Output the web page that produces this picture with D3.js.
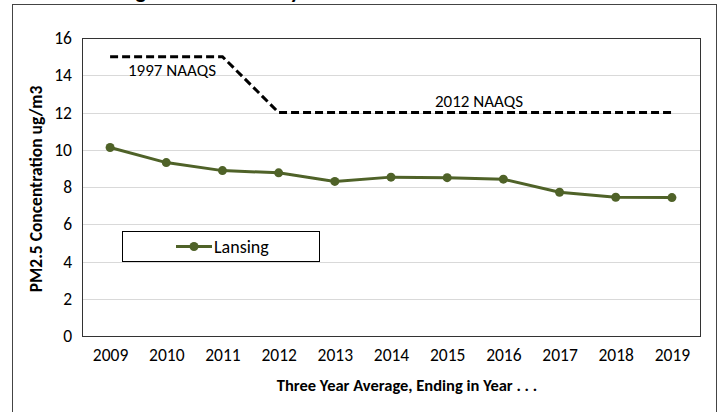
<!DOCTYPE html>
<html>
<head>
<meta charset="utf-8">
<script src="https://cdn.jsdelivr.net/npm/d3@7/dist/d3.min.js"></script>
<style>
  body { margin: 0; background: #fff; }
  svg { display: block; font-family: Carlito, Lato, sans-serif; }
</style>
</head>
<body>
<svg id="chart" width="722" height="412"></svg>
<script>
// data
var years = ['2009', '2010', '2011', '2012', '2013', '2014', '2015', '2016', '2017', '2018', '2019'];
var lansing = [10.12, 9.31, 8.88, 8.76, 8.30, 8.53, 8.50, 8.42, 7.72, 7.45, 7.43];
var naaqs = [15, 15, 15, 12, 12, 12, 12, 12, 12, 12, 12];
var yTicks = [0, 2, 4, 6, 8, 10, 12, 14, 16];

var svg = d3.select('#chart');
var plot = {left: 82, top: 38, right: 700, bottom: 336};
var fs = 17.5;

// title, mostly cut off above the frame
var title = svg.append('text')
    .attr('y', -2)
    .attr('font-size', 22)
    .attr('font-weight', 'bold')
    .text('Lansing Annual Trend by Year');
var gEnd = title.node().getSubStringLength(0, 7);
title.attr('x', 146 - gEnd);

// outer frame
svg.append('rect')
    .attr('x', 12.5).attr('y', 4.5)
    .attr('width', 704).attr('height', 420)
    .attr('fill', 'none')
    .attr('stroke', '#444')
    .attr('stroke-width', 1);

var x = d3.scalePoint()
    .domain(years)
    .range([plot.left, plot.right])
    .padding(0.5);
var y = d3.scaleLinear()
    .domain([0, 16])
    .range([plot.bottom, plot.top]);

// gridlines
svg.append('g')
    .selectAll('line')
    .data(yTicks.slice(1, -1))
    .enter()
    .append('line')
    .attr('x1', plot.left).attr('x2', plot.right)
    .attr('y1', function(d) { return Math.round(y(d)) + 0.5; })
    .attr('y2', function(d) { return Math.round(y(d)) + 0.5; })
    .attr('stroke', '#d9d9d9')
    .attr('stroke-width', 1);

// plot border
svg.append('rect')
    .attr('x', plot.left + 0.5).attr('y', plot.top + 0.5)
    .attr('width', plot.right - plot.left).attr('height', plot.bottom - plot.top)
    .attr('fill', 'none')
    .attr('stroke', '#333')
    .attr('stroke-width', 1);

// axes (labels only)
var yAxis = svg.append('g')
    .attr('transform', 'translate(' + plot.left + ',0)')
    .call(d3.axisLeft(y).tickValues(yTicks).tickSize(0).tickPadding(10));
var xAxis = svg.append('g')
    .attr('transform', 'translate(0,' + plot.bottom + ')')
    .call(d3.axisBottom(x).tickSize(0).tickPadding(13));
[yAxis, xAxis].forEach(function(a) {
    a.select('.domain').remove();
    a.selectAll('text')
        .attr('font-size', fs)
        .attr('font-family', 'Carlito, Lato, sans-serif')
        .attr('fill', '#000');
});

// axis titles
svg.append('text')
    .attr('transform', 'translate(42,' + ((plot.top + plot.bottom) / 2 + 2) + ') rotate(-90)')
    .attr('text-anchor', 'middle')
    .attr('font-size', 17.5)
    .attr('font-weight', 'bold')
    .text('PM2.5 Concentration ug/m3');
svg.append('text')
    .attr('x', (plot.left + plot.right) / 2 + 16)
    .attr('y', 391)
    .attr('text-anchor', 'middle')
    .attr('font-size', 16.5)
    .attr('font-weight', 'bold')
    .text('Three Year Average, Ending in Year . . .');

// NAAQS dashed line
var line = d3.line()
    .x(function(d, i) { return x(years[i]); })
    .y(function(d) { return y(d); });
svg.append('path')
    .datum(naaqs)
    .attr('d', line)
    .attr('fill', 'none')
    .attr('stroke', '#000')
    .attr('stroke-width', 3)
    .attr('stroke-dasharray', '8,4');

svg.append('text')
    .attr('x', 128).attr('y', y(13.95))
    .attr('font-size', 17)
    .text('1997 NAAQS');
svg.append('text')
    .attr('x', 435).attr('y', y(12.3))
    .attr('font-size', 17)
    .text('2012 NAAQS');

// Lansing series
var green = '#4f6228';
svg.append('path')
    .datum(lansing)
    .attr('d', line)
    .attr('fill', 'none')
    .attr('stroke', green)
    .attr('stroke-width', 3);
svg.append('g')
    .selectAll('circle')
    .data(lansing)
    .enter()
    .append('circle')
    .attr('cx', function(d, i) { return x(years[i]); })
    .attr('cy', function(d) { return y(d); })
    .attr('r', 4.5)
    .attr('fill', green);

// legend
var legend = svg.append('g').attr('transform', 'translate(122,231)');
legend.append('rect')
    .attr('x', 0.5).attr('y', 0.5)
    .attr('width', 197).attr('height', 30)
    .attr('fill', '#fff')
    .attr('stroke', '#000')
    .attr('stroke-width', 1);
legend.append('line')
    .attr('x1', 54).attr('x2', 90)
    .attr('y1', 15.5).attr('y2', 15.5)
    .attr('stroke', green)
    .attr('stroke-width', 3);
legend.append('circle')
    .attr('cx', 72).attr('cy', 15.5).attr('r', 4.5)
    .attr('fill', green);
legend.append('text')
    .attr('x', 92).attr('y', 21.5)
    .attr('font-size', 18)
    .text('Lansing');
</script>
</body>
</html>
